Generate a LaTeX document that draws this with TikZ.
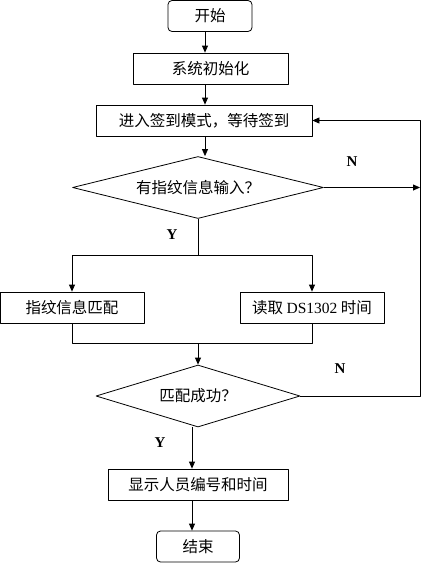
\documentclass[tikz,border=0pt]{standalone}
\usepackage{fontspec}
\newfontfamily\cjk{Noto Sans CJK SC}
\setmainfont{Liberation Serif}
\usetikzlibrary{arrows.meta,shapes.geometric}
\begin{document}
\begin{tikzpicture}[x=1pt, y=-1pt, line join=round, >={Triangle[length=7pt,width=6pt]},
  font=\fontsize{15.5}{18}\selectfont\cjk,
  box/.style={draw, line width=0.8pt, minimum height=31pt, inner sep=0pt},
  term/.style={box, rounded corners=4pt},
  cond/.style={draw, line width=0.8pt, diamond, inner sep=0pt, shape aspect=4, minimum height=62pt},
  lab/.style={font=\fontsize{15}{17}\selectfont\bfseries},
  arr/.style={->, line width=0.8pt}, ln/.style={line width=0.8pt}]
\useasboundingbox (0,0) rectangle (422,563);
% Cột chính
\def\xr{420}
\node[term, minimum width=84pt] (start) at (210,16) {开始};
\node[box, minimum width=155pt] (init) at (210.5,68.5) {系统初始化};
\node[box, minimum width=216pt] (wait) at (204,120.5) {进入签到模式，等待签到};
\node[cond, minimum width=251pt] (q1) at (198,187.5) {有指纹信息输入？};
% Hai nhánh song song
\node[box, minimum width=144pt] (match) at (72,307.5) {指纹信息匹配};
\node[box, minimum width=144pt] (rtc) at (312,307.5) {读取 {\rmfamily DS1302} 时间};
\node[cond, minimum width=204pt] (q2) at (198,396) {匹配成功？};
\node[box, minimum width=180pt] (show) at (198,484.5) {显示人员编号和时间};
\node[term, minimum width=83pt] (stop) at (198,546.5) {结束};
% Nhãn Y / N
\node[lab] (n1) at (352,162) {N};
\node[lab] (y1) at (172,235) {Y};
\node[lab] (n2) at (340,369) {N};
\node[lab] (y2) at (160,443) {Y};
% Điểm rẽ nhánh
\coordinate (ca) at (205,0);
\coordinate (cb) at (192,0);
\coordinate (split) at (198,255);
\coordinate (merge) at (198,343);
\coordinate (r1) at (\xr,187.5);
\coordinate (r2) at (\xr,396);
% Các mũi tên
\draw[arr] (start.south -| ca) -- (init.north -| ca);
\draw[arr] (init.south -| ca) -- (wait.north -| ca);
\draw[arr] (wait.south -| ca) -- (q1.north -| ca);
\draw[arr] (q1.east) -- (r1);
\draw[ln] (q1.south) -- (split);
\draw[arr] (split) -| (match);
\draw[arr] (split) -| (rtc);
\draw[ln] (match.south) |- (merge);
\draw[ln] (rtc.south) |- (merge);
\draw[arr] (merge) -- (q2.north);
\draw[arr] (q2.east) -- (r2) -- (r2 |- wait.east) -- (wait.east);
\draw[arr] (q2.south -| cb) -- (show.north -| cb);
\draw[arr] (show.south -| cb) -- (stop.north -| cb);
\end{tikzpicture}
\end{document}
